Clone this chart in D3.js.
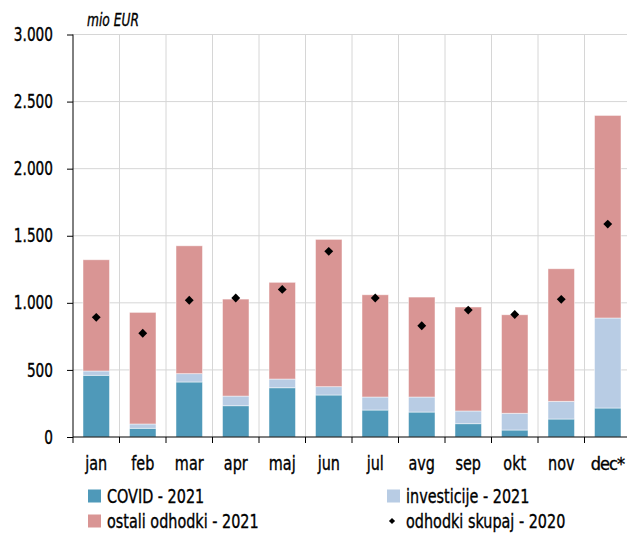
<!DOCTYPE html>
<html>
<head>
<meta charset="utf-8">
<title>odhodki 2021</title>
<script src="https://cdn.jsdelivr.net/npm/d3@7"></script>
<style>
  body { margin: 0; background: #fff; }
  svg text { font-family: "DejaVu Sans Condensed", "Liberation Sans Narrow", sans-serif; font-stretch: condensed; fill: #000; stroke: #000; stroke-width: 0.35px; }
</style>
</head>
<body>
<div id="chart"></div>
<script>
// data (mio EUR)
var months = ["jan", "feb", "mar", "apr", "maj", "jun", "jul", "avg", "sep", "okt", "nov", "dec*"];
var covid2021 = [460, 65, 410, 233, 367, 313, 201, 186, 99, 52, 134, 216];
var investicije2021 = [32, 32, 62, 72, 65, 62, 97, 112, 95, 125, 132, 671];
var ostali2021 = [829, 832, 953, 723, 721, 1098, 762, 745, 775, 734, 988, 1510];
var skupaj2020 = [892, 773, 1019, 1036, 1100, 1384, 1036, 829, 946, 913, 1026, 1587];
var yTicks = [0, 500, 1000, 1500, 2000, 2500, 3000];

var keys = ["covid", "inv", "ostali"];
var colors = { covid: "#4f99b9", inv: "#b8cce4", ostali: "#d99594" };

var W = 627, H = 533;
var margin = {top: 34.5, left: 73, bottom: 96, right: -4};

var svg = d3.select("#chart").append("svg")
    .attr("width", W)
    .attr("height", H);

var rows = months.map(function(m, i) {
  return { month: m, covid: covid2021[i], inv: investicije2021[i], ostali: ostali2021[i], total2020: skupaj2020[i] };
});

var x = d3.scaleBand()
    .domain(months)
    .range([margin.left, W - margin.right])
    .paddingInner(0.43)
    .paddingOuter(0.215);

var y = d3.scaleLinear()
    .domain([0, 3000])
    .range([H - margin.bottom, margin.top]);

// band boundaries for vertical grid + ticks
var step = x.step();
var bounds = d3.range(months.length + 1).map(function(i) { return margin.left + i * step; });

// grid
svg.append("g").selectAll("line.h")
  .data(yTicks.slice(1))
  .enter().append("line")
    .attr("x1", margin.left).attr("x2", W)
    .attr("y1", function(d) { return y(d); }).attr("y2", function(d) { return y(d); })
    .attr("stroke", "#d6d6d6").attr("stroke-width", 1);

svg.append("g").selectAll("line.v")
  .data(bounds.slice(1))
  .enter().append("line")
    .attr("x1", function(d) { return d; }).attr("x2", function(d) { return d; })
    .attr("y1", y(3000)).attr("y2", y(0))
    .attr("stroke", "#d6d6d6").attr("stroke-width", 1);

// stacked bars
var stacked = d3.stack().keys(keys)(rows);

svg.append("g").selectAll("g")
  .data(stacked)
  .enter().append("g")
    .attr("fill", function(d) { return colors[d.key]; })
  .selectAll("rect")
  .data(function(d) { return d; })
  .enter().append("rect")
    .attr("x", function(d) { return x(d.data.month); })
    .attr("width", x.bandwidth())
    .attr("y", function(d) { return y(d[1]); })
    .attr("height", function(d) { return y(d[0]) - y(d[1]); })
    .attr("stroke", "#fff")
    .attr("stroke-opacity", 0.6)
    .attr("stroke-width", 0.8);

// 2020 totals
svg.append("g").selectAll("path")
  .data(rows)
  .enter().append("path")
    .attr("d", d3.symbol().type(d3.symbolDiamond2).size(50))
    .attr("transform", function(d) { return "translate(" + (x(d.month) + x.bandwidth() / 2) + "," + y(d.total2020) + ")"; })
    .attr("fill", "#000");

// y axis
var yAxis = svg.append("g")
    .attr("transform", "translate(" + margin.left + ",0)")
    .call(d3.axisLeft(y).tickValues(yTicks).tickSize(6).tickPadding(14)
      .tickFormat(function(d) { return d3.format(",")(d).replace(/,/g, "."); }));
yAxis.select(".domain").attr("stroke", "#000").attr("d", "M0," + y(3000) + "V" + y(0));
yAxis.selectAll("text").style("font-size", "19px").style("font-family", null).attr("fill", null);

// x axis: line + boundary ticks
var xg = svg.append("g");
xg.append("line")
    .attr("x1", margin.left).attr("x2", W)
    .attr("y1", y(0)).attr("y2", y(0))
    .attr("stroke", "#000");
xg.selectAll("line.t")
  .data(bounds)
  .enter().append("line")
    .attr("x1", function(d) { return d; }).attr("x2", function(d) { return d; })
    .attr("y1", y(0)).attr("y2", y(0) + 6)
    .attr("stroke", "#000");
var last = months[months.length - 1];
xg.selectAll("text")
  .data(months)
  .enter().append("text")
    .attr("class", function(d) { return d === last ? "edge" : null; })
    // last label is pinned to the right edge so it is not clipped
    .attr("x", function(d) { return d === last ? W - 3 : x(d) + x.bandwidth() / 2; })
    .attr("y", 470)
    .attr("text-anchor", function(d) { return d === last ? "end" : "middle"; })
    .style("font-size", function(d) { return d === last ? "18px" : "20px"; })
    .style("letter-spacing", function(d) { return d === last ? "-1px" : null; })
    .text(function(d) { return d; });

// unit label
svg.append("text")
    .attr("x", 87).attr("y", 26)
    .style("font-size", "17px")
    .style("font-style", "italic")
    .text("mio EUR");

// legend
var legend = [
  { label: "COVID - 2021", color: colors.covid, x: 88, y: 496, type: "rect" },
  { label: "investicije - 2021", color: colors.inv, x: 387, y: 496, type: "rect" },
  { label: "ostali odhodki - 2021", color: colors.ostali, x: 88, y: 521, type: "rect" },
  { label: "odhodki skupaj - 2020", color: "#000", x: 387, y: 521, type: "dot" }
];
var lg = svg.append("g").selectAll("g")
  .data(legend)
  .enter().append("g")
    .attr("transform", function(d) { return "translate(" + d.x + "," + d.y + ")"; });
lg.filter(function(d) { return d.type === "rect"; }).append("rect")
    .attr("x", 0).attr("y", -6.5).attr("width", 13).attr("height", 13)
    .attr("fill", function(d) { return d.color; });
lg.filter(function(d) { return d.type === "dot"; }).append("path")
    .attr("transform", "translate(5,0)")
    .attr("d", d3.symbol().type(d3.symbolDiamond2).size(24));
lg.append("text")
    .attr("x", 19).attr("y", 7)
    .style("font-size", "20px")
    .text(function(d) { return d.label; });

// squeeze all text horizontally, the original uses a condensed face
svg.selectAll("text:not(.edge)").each(function() {
  var len = this.getComputedTextLength();
  d3.select(this).attr("textLength", len * 0.8).attr("lengthAdjust", "spacingAndGlyphs");
});
</script>
</body>
</html>
